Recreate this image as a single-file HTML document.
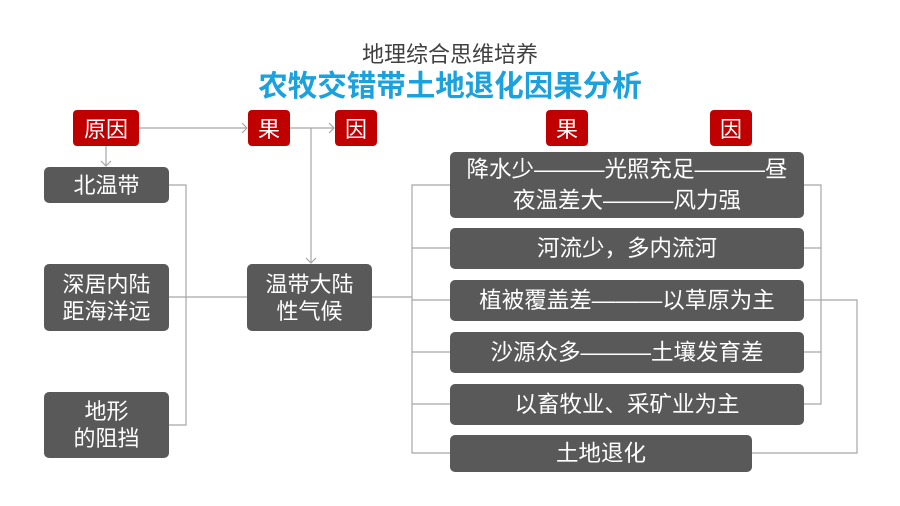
<!DOCTYPE html>
<html><head><meta charset="utf-8"><style>
body{margin:0;width:900px;height:506px;background:#fff;position:relative;overflow:hidden;font-family:"Liberation Sans","Noto Sans CJK SC",sans-serif}
.b{position:absolute;background:#595959;color:#fff;border-radius:5px;display:flex;align-items:center;justify-content:center;text-align:center;font-size:22px;line-height:27px;white-space:nowrap}
.r{position:absolute;background:#c00000;color:#fff;border-radius:4px;display:flex;align-items:center;justify-content:center;font-size:22px}
svg{position:absolute;left:0;top:0}
</style></head><body>
<svg width="900" height="506">
<g stroke="#a6a6a6" stroke-width="1.2" fill="none">
<path d="M106 146V166M101 161L106 166L111 161"/>
<path d="M139 128H247M242 123L247 128L242 133"/>
<path d="M290 128H334M329 123L334 128L329 133"/>
<path d="M311 128V263M306 258L311 263L316 258"/>
<path d="M169 185H186V425H169M169 297H247M372 297H412"/>
<path d="M450 185H412V453H450M412 248H450M412 300H450M412 352H450M412 404H450"/>
<path d="M804 185H821V404H804M804 248H821M804 352H821"/>
<path d="M804 300H857V453H752"/>
</g></svg>
<div style="position:absolute;left:0;width:900px;top:37px;text-align:center;font-size:22px;color:#404040">地理综合思维培养</div>
<div style="position:absolute;left:0;width:900px;top:63px;text-align:center;font-size:29.5px;font-weight:bold;color:#1ba1dd">农牧交错带土地退化因果分析</div>
<div class="r" style="left:73px;top:110px;width:66px;height:36px">原因</div>
<div class="r" style="left:248px;top:110px;width:42px;height:36px">果</div>
<div class="r" style="left:335px;top:110px;width:42px;height:36px">因</div>
<div class="r" style="left:546px;top:110px;width:42px;height:36px">果</div>
<div class="r" style="left:710px;top:110px;width:42px;height:36px">因</div>
<div class="b" style="left:44px;top:167px;width:125px;height:36px">北温带</div>
<div class="b" style="left:44px;top:264px;width:125px;height:67px">深居内陆<br>距海洋远</div>
<div class="b" style="left:44px;top:392px;width:125px;height:66px">地形<br>的阻挡</div>
<div class="b" style="left:247px;top:264px;width:125px;height:67px">温带大陆<br>性气候</div>
<div class="b" style="left:450px;top:152px;width:354px;height:66px;font-size:22.5px;line-height:30px"><div>降水少<span style="font-size:23.5px">———</span>光照充足<span style="font-size:23.5px">———</span>昼<br>夜温差大<span style="font-size:23.5px">———</span>风力强</div></div>
<div class="b" style="left:450px;top:228px;width:354px;height:41px;font-size:22.5px"><div>河流少，多内流河</div></div>
<div class="b" style="left:450px;top:280px;width:354px;height:41px;font-size:22.5px"><div>植被覆盖差<span style="font-size:23.5px">———</span>以草原为主</div></div>
<div class="b" style="left:450px;top:332px;width:354px;height:41px;font-size:22.5px"><div>沙源众多<span style="font-size:23.5px">———</span>土壤发育差</div></div>
<div class="b" style="left:450px;top:384px;width:354px;height:41px;font-size:22.5px"><div>以畜牧业、采矿业为主</div></div>
<div class="b" style="left:450px;top:435px;width:302px;height:37px;font-size:22.5px"><div>土地退化</div></div>
</body></html>
